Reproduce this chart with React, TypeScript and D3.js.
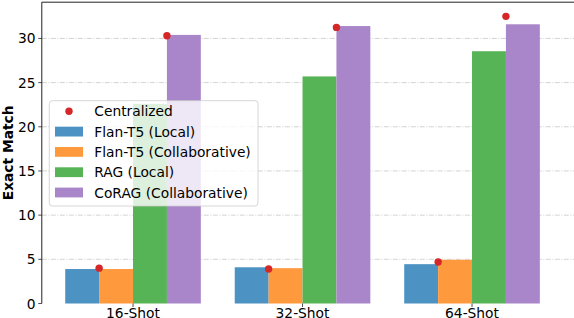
import React from 'react';
import * as d3 from 'd3';

const categories = ['16-Shot', '32-Shot', '64-Shot'];
const flanLocal = [3.9, 4.1, 4.45];
const flanCollab = [3.9, 4.0, 4.95];
const ragLocal = [22.6, 25.7, 28.55];
const coragCollab = [30.4, 31.4, 31.6];
const centralizedFlan = [4.0, 3.9, 4.7];
const centralizedRag = [30.3, 31.25, 32.5];
const yTicks = [0, 5, 10, 15, 20, 25, 30];

const seriesNames = ['Flan-T5 (Local)', 'Flan-T5 (Collaborative)', 'RAG (Local)', 'CoRAG (Collaborative)'];
const seriesData = [flanLocal, flanCollab, ragLocal, coragCollab];
const seriesColors = ['#4c92c3', '#ff993e', '#56b356', '#a985ca'];
const dotColor = '#d62728';

const FONT = 'DejaVu Sans, sans-serif';
const FS = 13.8;

export default function App() {
  const W = 574, H = 318;
  const left = 41.8, top = 2.2, bottom = 303.5;
  const x = d3.scaleLinear().domain([-0.54, 2.54]).range([41.5, 41.5 + 3.08 * 169.5]);
  const y = d3.scaleLinear().domain([0, 34.1]).range([bottom, top]);
  const barW = 0.2;
  const offsets = [-0.3, -0.1, 0.1, 0.3];

  const legendX = 49.3, legendY = 100.7, legendW = 208.7, legendH = 105.3;
  const rowY = (i: number) => 111.3 + i * 20.3;

  return (
    <svg width={W} height={H} style={{ position: 'absolute', left: 0, top: 0 }} fontFamily={FONT}>
      <rect x={0} y={0} width={W} height={H} fill="#fff" />
      {/* grid */}
      {yTicks.filter(t => t > 0).map(t => (
        <line key={t} x1={left} x2={W} y1={y(t)} y2={y(t)} stroke="#b0b0b0" strokeOpacity={0.7}
          strokeWidth={0.8} strokeDasharray="5,1.5,1,1.5" />
      ))}
      {/* bars */}
      {seriesData.map((arr, si) => arr.map((v, ci) => {
        const cx = ci + offsets[si];
        const x0 = x(cx - barW / 2), x1 = x(cx + barW / 2);
        return <rect key={`${si}-${ci}`} x={x0} width={x1 - x0} y={y(v)} height={y(0) - y(v)} fill={seriesColors[si]} />;
      }))}
      {/* centralized dots */}
      {centralizedFlan.map((v, ci) => (
        <circle key={`cf${ci}`} cx={x(ci - 0.2)} cy={y(v)} r={3.7} fill={dotColor} />
      ))}
      {centralizedRag.map((v, ci) => (
        <circle key={`cr${ci}`} cx={x(ci + 0.2)} cy={y(v)} r={3.7} fill={dotColor} />
      ))}
      {/* spines */}
      <line x1={left} x2={left} y1={top} y2={bottom} stroke="#222" strokeWidth={1} />
      <line x1={left} x2={W} y1={top} y2={top} stroke="#222" strokeWidth={1} />
      {/* y ticks */}
      {yTicks.map(t => (
        <g key={t}>
          <line x1={left - 3.5} x2={left} y1={y(t)} y2={y(t)} stroke="#222" strokeWidth={0.8} />
          <text x={35.5} y={y(t) + 5} textAnchor="end" fontSize={FS} fill="#000">{t}</text>
        </g>
      ))}
      {/* x ticks */}
      {categories.map((c, i) => (
        <g key={c}>
          <line x1={x(i)} x2={x(i)} y1={bottom} y2={bottom + 3.5} stroke="#222" strokeWidth={0.8} />
          <text x={x(i)} y={318.3} textAnchor="middle" fontSize={FS} fill="#000">{c}</text>
        </g>
      ))}
      {/* y label */}
      <text transform={`translate(12.5,${(top + bottom) / 2}) rotate(-90)`} textAnchor="middle"
        fontSize={FS} fontWeight="bold" fill="#000">Exact Match</text>
      {/* legend */}
      <rect x={legendX} y={legendY} width={legendW} height={legendH} rx={3} ry={3}
        fill="#fff" fillOpacity={0.8} stroke="#cccccc" strokeWidth={0.8} />
      <circle cx={69} cy={rowY(0)} r={3.7} fill={dotColor} />
      <text x={94.3} y={rowY(0) + 5} fontSize={FS} fill="#000">Centralized</text>
      {seriesNames.map((n, i) => (
        <g key={n}>
          <rect x={55} y={rowY(i + 1) - 4.9} width={28} height={9.8} fill={seriesColors[i]} />
          <text x={94.3} y={rowY(i + 1) + 5} fontSize={FS} fill="#000">{n}</text>
        </g>
      ))}
    </svg>
  );
}
